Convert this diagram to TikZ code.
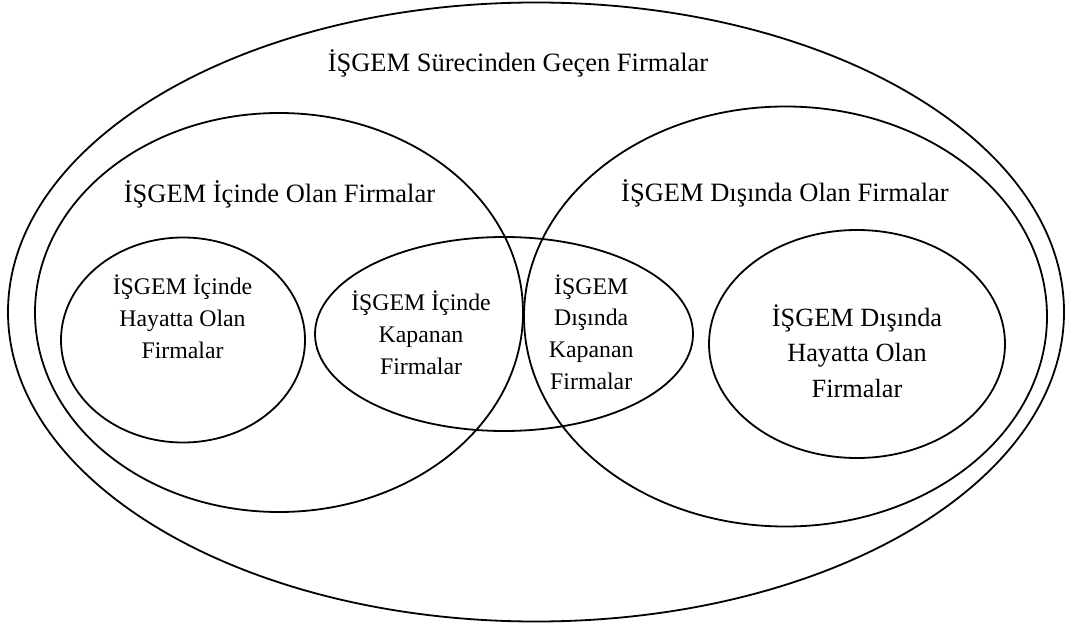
\documentclass[tikz,border=0pt]{standalone}
\usepackage{fontspec}
\setmainfont{Liberation Serif}
\usetikzlibrary{shapes.geometric}
\begin{document}
\begin{tikzpicture}[x=1pt,y=-1pt,
  setshape/.style={ellipse,draw=black,line width=1.8pt,inner sep=0pt},
  toplabel/.style={font=\fontsize{26.5}{33}\selectfont,anchor=base,inner sep=0pt},
  innerlabel/.style={font=\fontsize{23.8}{31.7}\selectfont,align=center,anchor=base,inner sep=0pt},
  widelabel/.style={font=\fontsize{26.3}{35.5}\selectfont,align=center,anchor=base,inner sep=0pt}]
  \useasboundingbox[fill=white] (0,0) rectangle (1068,628);

  % the sets
  \node[setshape,minimum width=1056pt,minimum height=619pt] (all) at (536,312) {};
  \node[setshape,minimum width=488pt,minimum height=399pt] (inside) at (279,312.5) {};
  \node[setshape,minimum width=523pt,minimum height=420pt] (outside) at (785.5,316.5) {};
  \node[setshape,minimum width=244pt,minimum height=205pt] (insidealive) at (183,340) {};
  \node[setshape,minimum width=378pt,minimum height=194pt] (closed) at (504,334) {};
  \node[setshape,minimum width=296pt,minimum height=228pt] (outsidealive) at (857,344) {};

  % labels (multi-line labels are placed by the baseline of their last line)
  \node[toplabel] (tall) at (518,71.7) {İŞGEM Sürecinden Geçen Firmalar};
  \node[toplabel] (tinside) at (279.5,202.7) {İŞGEM İçinde Olan Firmalar};
  \node[toplabel] (toutside) at (785,201.7) {İŞGEM Dışında Olan Firmalar};
  \node[innerlabel] (tinsidealive) at (182.5,358.3) {İŞGEM İçinde\\Hayatta Olan\\Firmalar};
  \node[innerlabel] (tclosedin) at (421,374) {İŞGEM İçinde\\Kapanan\\Firmalar};
  \node[innerlabel] (tclosedout) at (591.2,389.3) {İŞGEM\\Dışında\\Kapanan\\Firmalar};
  \node[widelabel] (toutsidealive) at (857,397.3) {İŞGEM Dışında\\Hayatta Olan\\Firmalar};
\end{tikzpicture}
\end{document}
